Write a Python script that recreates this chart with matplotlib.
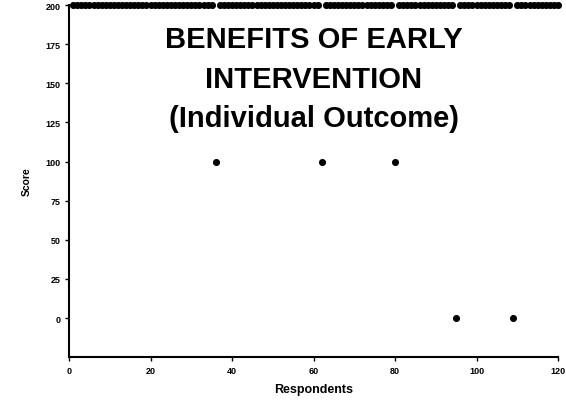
import matplotlib
matplotlib.use("Agg")
import matplotlib.pyplot as plt

plt.rcParams['font.family'] = ['Liberation Sans', 'DejaVu Sans']

# データ：回答者番号とスコア
respondents = list(range(1, 121))
scores = [
    200, 200, 200, 200, 200, 200, 200, 200, 200, 200,
    200, 200, 200, 200, 200, 200, 200, 200, 200, 200,
    200, 200, 200, 200, 200, 200, 200, 200, 200, 200,
    200, 200, 200, 200, 200, 100, 200, 200, 200, 200,
    200, 200, 200, 200, 200, 200, 200, 200, 200, 200,
    200, 200, 200, 200, 200, 200, 200, 200, 200, 200,
    200, 100, 200, 200, 200, 200, 200, 200, 200, 200,
    200, 200, 200, 200, 200, 200, 200, 200, 200, 100,
    200, 200, 200, 200, 200, 200, 200, 200, 200, 200,
    200, 200, 200, 200, 0, 200, 200, 200, 200, 200,
    200, 200, 200, 200, 200, 200, 200, 200, 0, 200,
    200, 200, 200, 200, 200, 200, 200, 200, 200, 200,
]
x_ticks = [0, 20, 40, 60, 80, 100, 120]
y_ticks = [0, 25, 50, 75, 100, 125, 150, 175, 200]
title_lines = ["BENEFITS OF EARLY", "INTERVENTION", "(Individual Outcome)"]

fig = plt.figure(figsize=(5.66, 4.02), dpi=100)
ax = fig.add_axes([0.122, 0.109, 0.864, 0.876])

ax.scatter(respondents, scores, s=26, color="black", linewidths=0, clip_on=False, zorder=3)

ax.set_xlim(0, 120)
ax.set_ylim(-25, 200)
ax.set_xticks(x_ticks)
ax.set_yticks(y_ticks)
ax.tick_params(axis="both", labelsize=6.5, length=3, width=1, direction="out", pad=3)
for lbl in ax.get_xticklabels() + ax.get_yticklabels():
    lbl.set_fontweight("bold")

for side in ["top", "right"]:
    ax.spines[side].set_visible(False)
for side in ["left", "bottom"]:
    ax.spines[side].set_linewidth(1.5)

ax.set_xlabel("Respondents", fontsize=9, fontweight="bold", labelpad=6)
ax.set_ylabel("Score", fontsize=7.5, fontweight="bold", labelpad=10)

# タイトル（グラフ内）
ax.text(0.5, 0.791, "\n".join(title_lines), transform=ax.transAxes,
        ha="center", va="center", fontsize=21, fontweight="bold",
        linespacing=1.53)

fig.savefig("out.png", dpi=100)
